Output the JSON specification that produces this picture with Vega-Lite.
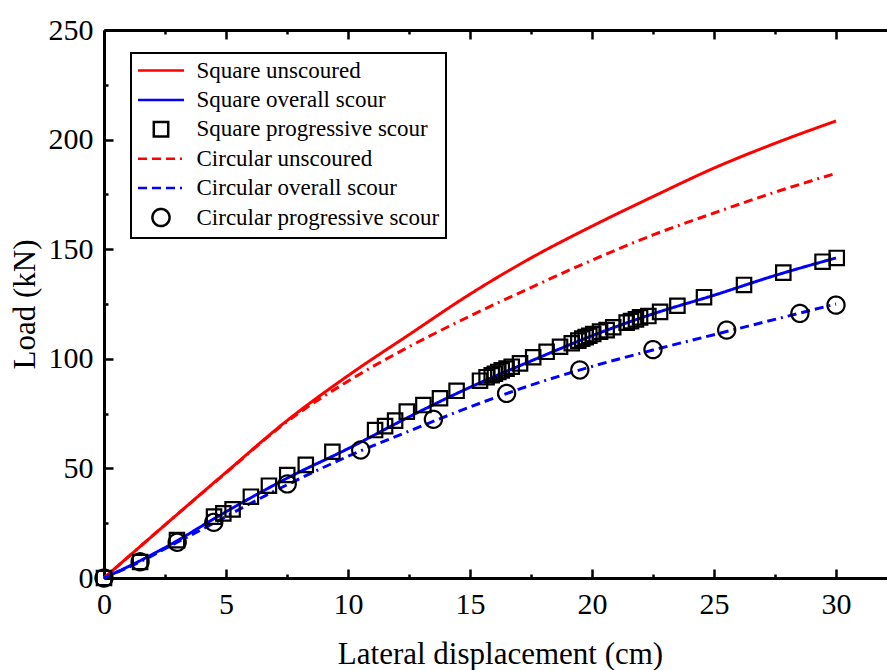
{
  "$schema": "https://vega.github.io/schema/vega-lite/v6.json",
  "width": 783,
  "height": 548,
  "autosize": {"type": "none"},
  "padding": {"left": 104, "top": 30, "right": 0, "bottom": 92},
  "background": "white",
  "config": {
    "view": {"stroke": null},
    "font": "Liberation Serif",
    "axis": {
      "labelFont": "Liberation Serif",
      "titleFont": "Liberation Serif",
      "labelFontSize": 30,
      "titleFontSize": 31,
      "labelColor": "black",
      "titleColor": "black",
      "titleFontWeight": "normal",
      "domainColor": "black",
      "domainWidth": 3,
      "tickColor": "black",
      "tickWidth": 2.5,
      "grid": false
    },
    "legend": {
      "orient": "none",
      "legendX": 27,
      "legendY": 23,
      "title": null,
      "labelFont": "Liberation Serif",
      "labelFontSize": 23,
      "labelColor": "black",
      "labelLimit": 400,
      "symbolSize": 256,
      "symbolStrokeWidth": 2.5,
      "strokeColor": "black",
      "strokeWidth": 2,
      "fillColor": "white",
      "padding": 6,
      "rowPadding": 0.4,
      "labelOffset": 24,
      "symbolOffset": 12.5
    }
  },
  "datasets": {
    "curves": [
      {"series": "Square unscoured", "x": 0, "y": 0},
      {"series": "Square unscoured", "x": 2.5, "y": 24.2},
      {"series": "Square unscoured", "x": 5, "y": 48.2},
      {"series": "Square unscoured", "x": 7.5, "y": 71.8},
      {"series": "Square unscoured", "x": 10, "y": 92.3},
      {"series": "Square unscoured", "x": 12.5, "y": 111},
      {"series": "Square unscoured", "x": 15, "y": 129.5},
      {"series": "Square unscoured", "x": 17.5, "y": 146},
      {"series": "Square unscoured", "x": 20, "y": 160.5},
      {"series": "Square unscoured", "x": 22.5, "y": 174},
      {"series": "Square unscoured", "x": 25, "y": 187},
      {"series": "Square unscoured", "x": 27.5, "y": 198.3},
      {"series": "Square unscoured", "x": 30, "y": 208.5},
      {"series": "Square overall scour", "x": 0, "y": 0},
      {"series": "Square overall scour", "x": 1.5, "y": 8},
      {"series": "Square overall scour", "x": 3, "y": 17},
      {"series": "Square overall scour", "x": 4.5, "y": 27},
      {"series": "Square overall scour", "x": 6, "y": 36.5},
      {"series": "Square overall scour", "x": 7.5, "y": 45.5},
      {"series": "Square overall scour", "x": 10, "y": 59},
      {"series": "Square overall scour", "x": 12.5, "y": 73.5},
      {"series": "Square overall scour", "x": 15, "y": 87},
      {"series": "Square overall scour", "x": 17.5, "y": 99},
      {"series": "Square overall scour", "x": 20, "y": 110.5},
      {"series": "Square overall scour", "x": 22.5, "y": 120.5},
      {"series": "Square overall scour", "x": 25, "y": 129},
      {"series": "Square overall scour", "x": 27.5, "y": 138},
      {"series": "Square overall scour", "x": 30, "y": 146},
      {"series": "Circular unscoured", "x": 0, "y": 0},
      {"series": "Circular unscoured", "x": 2.5, "y": 24.2},
      {"series": "Circular unscoured", "x": 5, "y": 48},
      {"series": "Circular unscoured", "x": 7.5, "y": 71.3},
      {"series": "Circular unscoured", "x": 10, "y": 89.8},
      {"series": "Circular unscoured", "x": 12.5, "y": 105.5},
      {"series": "Circular unscoured", "x": 15, "y": 119.5},
      {"series": "Circular unscoured", "x": 17.5, "y": 132.5},
      {"series": "Circular unscoured", "x": 20, "y": 145},
      {"series": "Circular unscoured", "x": 22.5, "y": 156.5},
      {"series": "Circular unscoured", "x": 25, "y": 166.5},
      {"series": "Circular unscoured", "x": 27.5, "y": 176},
      {"series": "Circular unscoured", "x": 30, "y": 184.6},
      {"series": "Circular overall scour", "x": 0, "y": 0},
      {"series": "Circular overall scour", "x": 1.5, "y": 7.5},
      {"series": "Circular overall scour", "x": 3, "y": 16.3},
      {"series": "Circular overall scour", "x": 4.5, "y": 25},
      {"series": "Circular overall scour", "x": 6, "y": 34},
      {"series": "Circular overall scour", "x": 7.5, "y": 42.5},
      {"series": "Circular overall scour", "x": 10, "y": 55.5},
      {"series": "Circular overall scour", "x": 12.5, "y": 67},
      {"series": "Circular overall scour", "x": 15, "y": 78},
      {"series": "Circular overall scour", "x": 17.5, "y": 88},
      {"series": "Circular overall scour", "x": 20, "y": 96.5},
      {"series": "Circular overall scour", "x": 22.5, "y": 104},
      {"series": "Circular overall scour", "x": 25, "y": 111},
      {"series": "Circular overall scour", "x": 27.5, "y": 118},
      {"series": "Circular overall scour", "x": 30, "y": 125}
    ],
    "points": [
      {"series": "Square progressive scour", "x": 0, "y": 0},
      {"series": "Square progressive scour", "x": 1.48, "y": 7.3},
      {"series": "Square progressive scour", "x": 2.99, "y": 17.3},
      {"series": "Square progressive scour", "x": 4.51, "y": 28},
      {"series": "Square progressive scour", "x": 4.89, "y": 29.5},
      {"series": "Square progressive scour", "x": 5.27, "y": 31.3},
      {"series": "Square progressive scour", "x": 6.02, "y": 37.1},
      {"series": "Square progressive scour", "x": 6.76, "y": 42.1},
      {"series": "Square progressive scour", "x": 7.51, "y": 47},
      {"series": "Square progressive scour", "x": 8.27, "y": 51.6},
      {"series": "Square progressive scour", "x": 9.36, "y": 57.6},
      {"series": "Square progressive scour", "x": 11.11, "y": 67.5},
      {"series": "Square progressive scour", "x": 11.52, "y": 69.3},
      {"series": "Square progressive scour", "x": 11.93, "y": 71.8},
      {"series": "Square progressive scour", "x": 12.41, "y": 75.9},
      {"series": "Square progressive scour", "x": 13.09, "y": 78.9},
      {"series": "Square progressive scour", "x": 13.77, "y": 82},
      {"series": "Square progressive scour", "x": 14.45, "y": 85.4},
      {"series": "Square progressive scour", "x": 15.41, "y": 90},
      {"series": "Square progressive scour", "x": 15.68, "y": 91.6},
      {"series": "Square progressive scour", "x": 15.89, "y": 92.5},
      {"series": "Square progressive scour", "x": 16.02, "y": 93.2},
      {"series": "Square progressive scour", "x": 16.16, "y": 94},
      {"series": "Square progressive scour", "x": 16.3, "y": 94.7},
      {"series": "Square progressive scour", "x": 16.5, "y": 95.5},
      {"series": "Square progressive scour", "x": 16.71, "y": 96.4},
      {"series": "Square progressive scour", "x": 17.05, "y": 97.9},
      {"series": "Square progressive scour", "x": 17.59, "y": 100.7},
      {"series": "Square progressive scour", "x": 18.14, "y": 103.2},
      {"series": "Square progressive scour", "x": 18.69, "y": 105.5},
      {"series": "Square progressive scour", "x": 19.17, "y": 107.1},
      {"series": "Square progressive scour", "x": 19.44, "y": 108.3},
      {"series": "Square progressive scour", "x": 19.6, "y": 109.2},
      {"series": "Square progressive scour", "x": 19.74, "y": 109.9},
      {"series": "Square progressive scour", "x": 19.89, "y": 110.5},
      {"series": "Square progressive scour", "x": 20.05, "y": 111.3},
      {"series": "Square progressive scour", "x": 20.33, "y": 112.4},
      {"series": "Square progressive scour", "x": 20.6, "y": 113.1},
      {"series": "Square progressive scour", "x": 20.87, "y": 114.4},
      {"series": "Square progressive scour", "x": 21.42, "y": 116.5},
      {"series": "Square progressive scour", "x": 21.6, "y": 117.2},
      {"series": "Square progressive scour", "x": 21.8, "y": 118},
      {"series": "Square progressive scour", "x": 21.97, "y": 118.9},
      {"series": "Square progressive scour", "x": 22.31, "y": 119.5},
      {"series": "Square progressive scour", "x": 22.79, "y": 121.4},
      {"series": "Square progressive scour", "x": 23.5, "y": 124.2},
      {"series": "Square progressive scour", "x": 24.59, "y": 128.1},
      {"series": "Square progressive scour", "x": 26.23, "y": 133.7},
      {"series": "Square progressive scour", "x": 27.84, "y": 139.3},
      {"series": "Square progressive scour", "x": 29.45, "y": 144.3},
      {"series": "Square progressive scour", "x": 30.03, "y": 146},
      {"series": "Circular progressive scour", "x": 0, "y": 0},
      {"series": "Circular progressive scour", "x": 1.48, "y": 7.4},
      {"series": "Circular progressive scour", "x": 3, "y": 16.3},
      {"series": "Circular progressive scour", "x": 4.5, "y": 25.4},
      {"series": "Circular progressive scour", "x": 7.51, "y": 42.9},
      {"series": "Circular progressive scour", "x": 10.52, "y": 58.4},
      {"series": "Circular progressive scour", "x": 13.5, "y": 72.4},
      {"series": "Circular progressive scour", "x": 16.5, "y": 84.2},
      {"series": "Circular progressive scour", "x": 19.5, "y": 94.9},
      {"series": "Circular progressive scour", "x": 22.5, "y": 104.2},
      {"series": "Circular progressive scour", "x": 25.52, "y": 113.1},
      {"series": "Circular progressive scour", "x": 28.52, "y": 120.7},
      {"series": "Circular progressive scour", "x": 30, "y": 124.5}
    ]
  },
  "resolve": {"axis": {"x": "independent"}},
  "layer": [
    {
      "data": {"name": "curves"},
      "mark": {"type": "line", "strokeWidth": 3, "interpolate": "monotone"},
      "encoding": {
        "x": {
          "field": "x", "type": "quantitative",
          "scale": {"domain": [0, 32.09], "nice": false, "zero": false},
          "axis": {
            "orient": "bottom",
            "title": "Lateral displacement (cm)",
            "values": [0, 2.5, 5, 7.5, 10, 12.5, 15, 17.5, 20, 22.5, 25, 27.5, 30],
            "labelExpr": "datum.value % 5 === 0 ? datum.label : ''",
            "tickSize": {"condition": {"test": "datum.value % 5 === 0", "value": -9}, "value": -4},
            "labelPadding": 20,
            "titleX": 396,
            "titleY": 85,
            "titleBaseline": "alphabetic",
            "labelFlush": false,
            "labelOverlap": false
          }
        },
        "y": {
          "field": "y", "type": "quantitative",
          "scale": {"domain": [0, 250], "nice": false},
          "axis": {
            "title": "Load (kN)",
            "values": [0, 25, 50, 75, 100, 125, 150, 175, 200, 225, 250],
            "labelExpr": "datum.value % 50 === 0 ? datum.label : ''",
            "tickSize": {"condition": {"test": "datum.value % 50 === 0", "value": -9}, "value": -4},
            "labelPadding": 20,
            "titleX": -79,
            "titleBaseline": "middle",
            "labelFlush": false,
            "labelOverlap": false
          }
        },
        "color": {
          "field": "series", "type": "nominal",
          "scale": {
            "domain": ["Square unscoured", "Square overall scour", "Square progressive scour", "Circular unscoured", "Circular overall scour", "Circular progressive scour"],
            "range": ["#ff0000", "#0000ff", "#000000", "#ff0000", "#0000ff", "#000000"]
          }
        },
        "strokeDash": {
          "field": "series", "type": "nominal",
          "scale": {
            "domain": ["Square unscoured", "Square overall scour", "Square progressive scour", "Circular unscoured", "Circular overall scour", "Circular progressive scour"],
            "range": [[1, 0], [1, 0], [1, 0], [9, 5, 9, 5, 9, 5, 2, 5], [9, 5, 9, 5, 9, 5, 2, 5], [1, 0]]
          }
        }
      }
    },
    {
      "data": {"name": "points"},
      "mark": {"type": "point", "filled": false, "size": 256, "strokeWidth": 2.2, "opacity": 1},
      "encoding": {
        "x": {
          "field": "x", "type": "quantitative",
          "axis": {
            "orient": "top",
            "title": null,
            "labels": false,
            "values": [0, 2.5, 5, 7.5, 10, 12.5, 15, 17.5, 20, 22.5, 25, 27.5, 30],
            "tickSize": {"condition": {"test": "datum.value % 5 === 0", "value": -9}, "value": -4}
          }
        },
        "y": {"field": "y", "type": "quantitative"},
        "color": {
          "field": "series", "type": "nominal",
          "scale": {
            "domain": ["Square unscoured", "Square overall scour", "Square progressive scour", "Circular unscoured", "Circular overall scour", "Circular progressive scour"],
            "range": ["#ff0000", "#0000ff", "#000000", "#ff0000", "#0000ff", "#000000"]
          }
        },
        "shape": {
          "field": "series", "type": "nominal",
          "scale": {
            "domain": ["Square unscoured", "Square overall scour", "Square progressive scour", "Circular unscoured", "Circular overall scour", "Circular progressive scour"],
            "range": ["M0,-1.07M0,1.07M-2.875,0L2.875,0", "M0,-1.07M0,1.07M-2.875,0L2.875,0", "M0,-1.07M0,1.07M-0.9,-0.9L0.9,-0.9L0.9,0.9L-0.9,0.9Z", "M0,-1.07M0,1.07M-2.875,0L2.875,0", "M0,-1.07M0,1.07M-2.875,0L2.875,0", "M1.07,0A1.07,1.07,0,1,1,-1.07,0A1.07,1.07,0,1,1,1.07,0Z"]
          }
        },
        "strokeDash": {
          "field": "series", "type": "nominal",
          "scale": {
            "domain": ["Square unscoured", "Square overall scour", "Square progressive scour", "Circular unscoured", "Circular overall scour", "Circular progressive scour"],
            "range": [[1, 0], [1, 0], [1, 0], [9, 5, 9, 5, 9, 5, 2, 5], [9, 5, 9, 5, 9, 5, 2, 5], [1, 0]]
          }
        }
      }
    }
  ]
}
